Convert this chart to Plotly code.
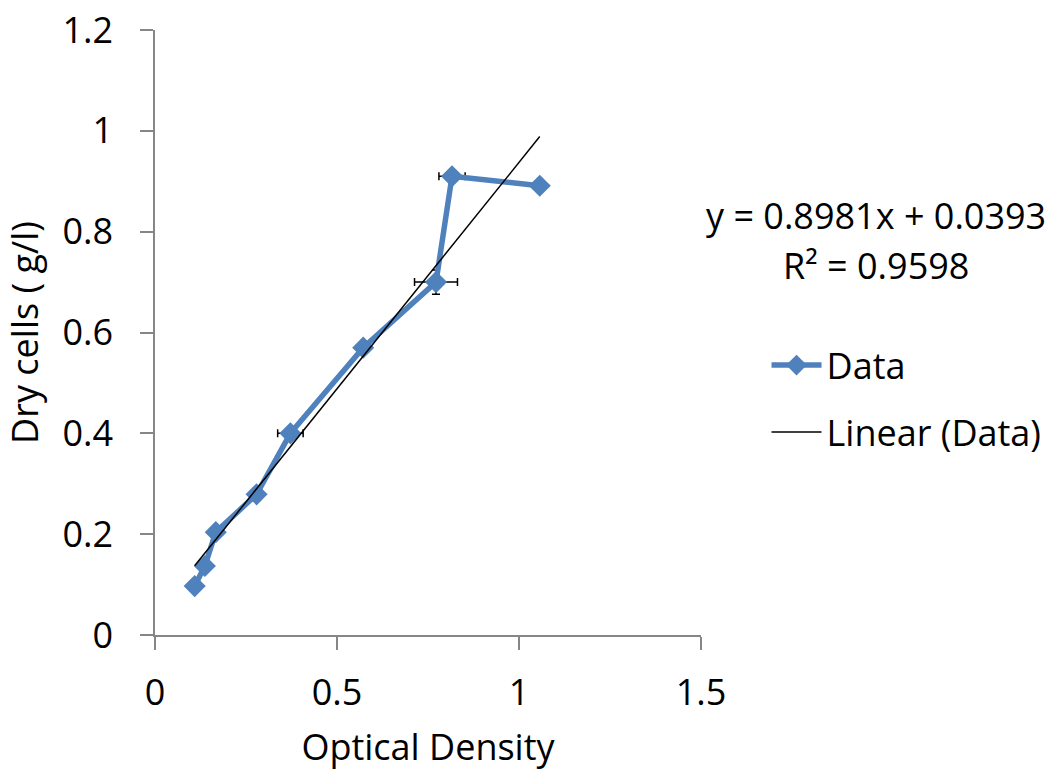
import numpy as np
import plotly.graph_objects as go

od = [0.109, 0.137, 0.167, 0.279, 0.372, 0.572, 0.772, 0.816, 1.057]
dry = [0.097, 0.137, 0.204, 0.279, 0.400, 0.570, 0.700, 0.910, 0.891]
od_err = [0.0, 0.0, 0.0, 0.0, 0.035, 0.0, 0.059, 0.036, 0.010]
dry_err = [0.0, 0.0, 0.0, 0.012, 0.008, 0.0, 0.024, 0.008, 0.006]
slope = 0.8981
intercept = 0.0393
r2 = 0.9598

FONT = "Open Sans"
FS = 36
BLUE = "#4F81BD"

trend_x = np.array([min(od), max(od)])
trend_y = slope * trend_x + intercept

fig = go.Figure()
fig.add_trace(go.Scatter(
    x=od, y=dry, mode="lines+markers", name="Data",
    line=dict(color=BLUE, width=5.5),
    marker=dict(symbol="diamond", size=17, color=BLUE),
    error_x=dict(type="data", array=od_err, color="black", thickness=1.5, width=4),
    error_y=dict(type="data", array=dry_err, color="black", thickness=1.5, width=4),
    legend="legend",
))
fig.add_trace(go.Scatter(
    x=trend_x, y=trend_y, mode="lines", name="Linear (Data)",
    line=dict(color="black", width=1.5),
    legend="legend2",
))

axis_common = dict(
    showgrid=False, zeroline=False, showline=True, linecolor="#868686", linewidth=1.5,
    ticks="outside", ticklen=13, tickcolor="#868686", tickwidth=1.5,
    tickfont=dict(family=FONT, size=FS, color="black"),
    ticklabeloverflow="allow", automargin=False,
)
fig.update_xaxes(range=[0, 1.5], dtick=0.5, tick0=0, ticklabelstandoff=12,
                 title=dict(text="Optical Density", font=dict(family=FONT, size=FS, color="black"), standoff=22),
                 **axis_common)
fig.update_yaxes(range=[0, 1.2], dtick=0.2, tick0=0, ticklabelstandoff=20,
                 title=dict(text="Dry cells ( g/l)", font=dict(family=FONT, size=FS, color="black"), standoff=16),
                 **axis_common)

fig.add_annotation(xref="paper", yref="paper", x=1.321, y=0.694, showarrow=False,
                   text=f"y = {slope}x + {intercept}", font=dict(family=FONT, size=FS, color="black"),
                   xanchor="center", yanchor="middle")
fig.add_annotation(xref="paper", yref="paper", x=1.321, y=0.610, showarrow=False,
                   text=f"R² = {r2}", font=dict(family=FONT, size=FS, color="black"),
                   xanchor="center", yanchor="middle")

leg = dict(font=dict(family=FONT, size=FS, color="black"), bgcolor="rgba(0,0,0,0)",
           xanchor="left", yanchor="middle", itemwidth=50)
fig.update_layout(
    width=1058, height=771,
    margin=dict(l=155, r=355, t=30, b=136),
    paper_bgcolor="white", plot_bgcolor="white",
    showlegend=True,
    legend=dict(x=1.12, y=0.446, **leg),
    legend2=dict(x=1.12, y=0.3355, **leg),
)
fig.write_html("out.html", config={"displayModeBar": False},
               post_script="document.body.style.margin='0';")
